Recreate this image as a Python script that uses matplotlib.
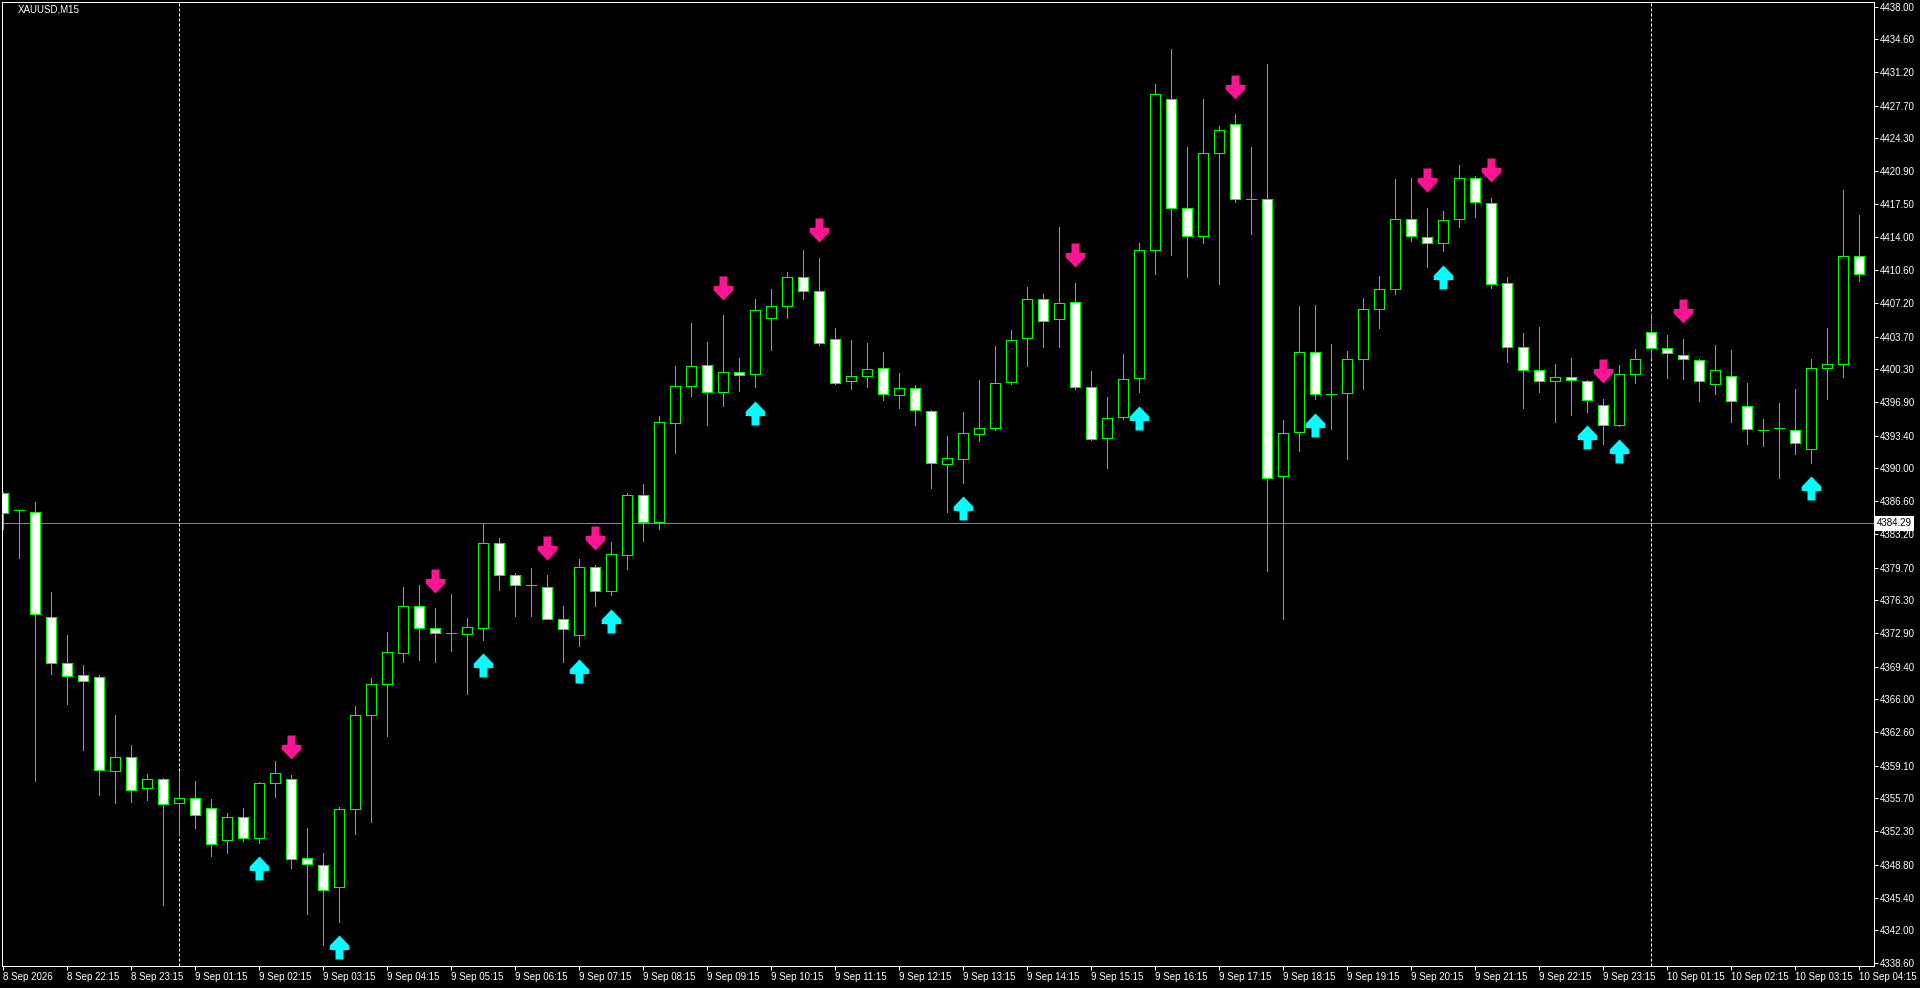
import matplotlib
matplotlib.use("Agg")
import matplotlib.pyplot as plt
from matplotlib.path import Path
from matplotlib.transforms import offset_copy

plt.rcParams['font.family'] = ['Liberation Sans', 'DejaVu Sans']

# ---------------- data ----------------
symbol = "XAUUSD,M15"

opens = [4387.41, 4385.64, 4385.51, 4374.58, 4369.80, 4368.49, 4368.35, 4358.53, 4360.04, 4356.76,
         4357.68, 4355.26, 4355.78, 4354.67, 4351.40, 4353.82, 4351.59, 4357.29, 4357.68, 4349.50,
         4348.78, 4346.55, 4354.60, 4364.36, 4367.57, 4370.84, 4375.69, 4373.40, 4372.87, 4372.81,
         4373.46, 4382.24, 4378.90, 4377.91, 4377.72, 4374.31, 4372.68, 4379.75, 4377.26, 4380.99,
         4387.21, 4384.40, 4394.68, 4398.61, 4400.77, 4397.95, 4400.05, 4399.78, 4405.61, 4406.92,
         4409.87, 4408.43, 4403.45, 4399.06, 4399.65, 4400.44, 4397.62, 4398.34, 4395.99, 4390.42,
         4390.95, 4393.56, 4394.15, 4398.93, 4403.52, 4407.58, 4405.48, 4407.25, 4398.41, 4393.11,
         4395.33, 4399.39, 4412.75, 4428.40, 4417.07, 4414.12, 4422.77, 4425.78, 4417.99, 4418.05,
         4389.18, 4393.83, 4402.14, 4397.69, 4397.82, 4401.42, 4406.53, 4408.69, 4415.96, 4414.06,
         4413.40, 4415.96, 4420.15, 4417.60, 4409.28, 4402.60, 4400.18, 4399.13, 4399.52, 4399.06,
         4396.58, 4394.48, 4399.78, 4404.17, 4402.53, 4401.75, 4401.29, 4398.74, 4399.65, 4396.51,
         4394.02, 4394.15, 4394.02, 4391.99, 4400.44, 4400.83, 4412.09]
highs = [4387.60, 4385.70, 4386.49, 4377.13, 4372.68, 4369.60, 4368.49, 4364.36, 4361.28, 4358.27,
         4357.80, 4358.53, 4357.48, 4355.65, 4354.21, 4354.73, 4357.42, 4359.58, 4358.14, 4352.64,
         4350.02, 4354.80, 4365.34, 4368.22, 4373.00, 4377.65, 4377.91, 4375.49, 4376.93, 4374.44,
         4384.20, 4382.76, 4379.16, 4379.68, 4378.90, 4375.69, 4380.60, 4379.94, 4382.37, 4387.47,
         4388.39, 4395.46, 4400.64, 4405.09, 4403.12, 4405.94, 4401.49, 4407.58, 4408.62, 4410.39,
         4412.68, 4411.90, 4404.56, 4403.32, 4403.06, 4402.08, 4399.92, 4398.67, 4396.05, 4393.37,
         4395.86, 4399.20, 4402.73, 4404.37, 4408.89, 4408.10, 4415.11, 4409.28, 4400.11, 4397.43,
         4401.88, 4413.40, 4429.97, 4433.57, 4423.42, 4428.40, 4425.58, 4426.83, 4423.42, 4432.07,
         4395.00, 4406.86, 4406.99, 4402.93, 4402.21, 4407.71, 4410.00, 4420.08, 4420.21, 4417.07,
         4416.74, 4421.52, 4420.41, 4418.12, 4409.87, 4404.11, 4404.70, 4400.83, 4401.49, 4399.20,
         4397.23, 4400.77, 4402.40, 4406.07, 4403.84, 4403.45, 4401.35, 4402.80, 4402.34, 4398.87,
         4395.14, 4396.77, 4398.28, 4401.36, 4404.56, 4418.90, 4416.35]
lows = [4383.68, 4380.66, 4357.48, 4368.62, 4365.47, 4360.76, 4356.04, 4355.19, 4355.32, 4355.52,
        4344.59, 4351.92, 4352.64, 4349.69, 4350.02, 4351.33, 4351.07, 4355.85, 4348.45, 4343.73,
        4340.46, 4342.88, 4352.05, 4353.23, 4362.20, 4369.93, 4370.06, 4369.86, 4371.04, 4366.52,
        4372.22, 4377.33, 4374.71, 4374.64, 4374.31, 4369.93, 4371.56, 4375.69, 4376.80, 4379.55,
        4382.50, 4383.68, 4391.60, 4397.49, 4394.48, 4396.45, 4398.02, 4398.41, 4402.27, 4405.68,
        4407.64, 4402.86, 4398.74, 4398.21, 4398.41, 4397.10, 4396.25, 4394.48, 4387.93, 4385.44,
        4388.52, 4392.84, 4393.96, 4398.80, 4400.64, 4402.67, 4402.67, 4398.21, 4392.91, 4390.09,
        4395.14, 4397.89, 4410.20, 4412.16, 4409.93, 4413.40, 4409.15, 4417.73, 4414.32, 4379.29,
        4374.31, 4391.80, 4397.17, 4394.09, 4390.95, 4398.21, 4404.63, 4408.10, 4413.60, 4410.98,
        4412.55, 4415.04, 4416.09, 4408.76, 4401.03, 4396.25, 4397.89, 4394.87, 4395.59, 4395.86,
        4392.58, 4394.40, 4398.87, 4401.49, 4399.39, 4399.26, 4396.97, 4397.69, 4394.87, 4392.52,
        4392.32, 4388.98, 4391.47, 4390.55, 4397.17, 4399.46, 4409.48]
closes = [4385.38, 4385.64, 4374.90, 4369.80, 4368.42, 4367.96, 4358.66, 4359.97, 4356.63, 4357.68,
          4355.13, 4355.78, 4354.01, 4350.94, 4353.82, 4351.59, 4357.29, 4358.34, 4349.43, 4348.91,
          4346.22, 4354.60, 4364.36, 4367.57, 4370.91, 4375.69, 4373.40, 4372.94, 4372.87, 4373.53,
          4382.24, 4378.90, 4377.91, 4377.91, 4374.38, 4373.27, 4379.75, 4377.26, 4381.06, 4387.21,
          4384.40, 4394.81, 4398.54, 4400.64, 4397.95, 4399.98, 4399.72, 4406.46, 4406.92, 4409.87,
          4408.49, 4402.99, 4398.87, 4399.65, 4400.31, 4397.69, 4398.34, 4396.05, 4390.55, 4391.08,
          4393.70, 4394.15, 4398.87, 4403.32, 4407.58, 4405.29, 4407.18, 4398.41, 4393.04, 4395.27,
          4399.33, 4412.75, 4428.86, 4417.07, 4414.12, 4422.77, 4425.19, 4418.05, 4417.99, 4388.98,
          4393.70, 4402.14, 4397.69, 4397.69, 4401.42, 4406.53, 4408.69, 4415.96, 4414.12, 4413.47,
          4415.83, 4420.15, 4417.66, 4409.21, 4402.60, 4400.18, 4399.13, 4399.52, 4399.20, 4397.10,
          4394.48, 4399.78, 4401.36, 4402.53, 4402.01, 4401.36, 4399.13, 4400.18, 4397.03, 4394.09,
          4394.02, 4394.15, 4392.65, 4400.44, 4400.83, 4412.09, 4410.20]

up_signal_bars = [16, 21, 30, 36, 38, 47, 60, 71, 82, 90, 99, 101, 113]
down_signal_bars = [18, 27, 34, 37, 45, 51, 67, 77, 89, 93, 100, 105]
day_separator_bars = [11, 103]
bid_price = 4384.29

price_ticks = [4438.00, 4434.60, 4431.20, 4427.70, 4424.30, 4420.90, 4417.50, 4414.00, 4410.60,
               4407.20, 4403.70, 4400.30, 4396.90, 4393.40, 4390.00, 4386.60, 4383.20, 4379.70,
               4376.30, 4372.90, 4369.40, 4366.00, 4362.60, 4359.10, 4355.70, 4352.30, 4348.80,
               4345.40, 4342.00, 4338.60]

time_tick_bars = list(range(0, 117, 4))
time_tick_labels = ["8 Sep 2026", "8 Sep 22:15", "8 Sep 23:15", "9 Sep 01:15", "9 Sep 02:15",
                    "9 Sep 03:15", "9 Sep 04:15", "9 Sep 05:15", "9 Sep 06:15", "9 Sep 07:15",
                    "9 Sep 08:15", "9 Sep 09:15", "9 Sep 10:15", "9 Sep 11:15", "9 Sep 12:15",
                    "9 Sep 13:15", "9 Sep 14:15", "9 Sep 15:15", "9 Sep 16:15", "9 Sep 17:15",
                    "9 Sep 18:15", "9 Sep 19:15", "9 Sep 20:15", "9 Sep 21:15", "9 Sep 22:15",
                    "9 Sep 23:15", "10 Sep 01:15", "10 Sep 02:15", "10 Sep 03:15", "10 Sep 04:15"]

# ---------------- styling / layout ----------------
W, H, DPI = 1920, 988, 100
PX = 72.0 / DPI  # points per pixel
GREEN = "#00ff00"
CYAN = "#00ffff"
PINK = "#ff1493"
FS = 7

fig = plt.figure(figsize=(W / DPI, H / DPI), dpi=DPI, facecolor="black")
L, R, T, B = 2, 1874, 2.5, 966
ax = fig.add_axes([L / W, 1 - B / H, (R - L) / W, (B - T) / H])
ax.set_facecolor("black")

n = len(opens)
xs = list(range(n))
ax.set_xlim(-0.042, 116.958)
ax.set_ylim(4338.29, 4438.42)

# reference lines
ax.axhline(bid_price, color="#778899", lw=PX, zorder=1)
for b in day_separator_bars:
    ax.axvline(b, color="white", lw=PX, ls=(0, (3, 2)), zorder=1)

# candles
ax.vlines(xs, lows, highs, colors=GREEN, lw=PX, zorder=3, antialiased=False)
bottoms = [min(o, c) for o, c in zip(opens, closes)]
heights = [abs(c - o) for o, c in zip(opens, closes)]
fills = ["white" if c < o else "black" for o, c in zip(opens, closes)]
ax.bar(xs, heights, bottom=bottoms, width=0.625, color=fills, edgecolor=GREEN,
       linewidth=PX, zorder=4, antialiased=False)

# signal arrows
up_verts = [(0, 12), (9.8, 1.8), (9.8, -2.4), (4.0, -2.8), (4.0, -12), (-4.0, -12),
            (-4.0, -2.8), (-9.8, -2.4), (-9.8, 1.8), (0, 12)]
codes = [Path.MOVETO] + [Path.LINETO] * (len(up_verts) - 2) + [Path.CLOSEPOLY]
up_path = Path(up_verts, codes)
down_path = Path([(vx, -vy) for vx, vy in up_verts], codes)
ms = 2 * 12 * PX

up_tr = offset_copy(ax.transData, fig=fig, x=0, y=-25.2, units="dots")
down_tr = offset_copy(ax.transData, fig=fig, x=0, y=27.5, units="dots")
ax.plot(up_signal_bars, [lows[i] for i in up_signal_bars], ls="none", marker=up_path,
        ms=ms, mfc=CYAN, mec="none", mew=0, transform=up_tr, zorder=6, clip_on=False)
ax.plot(down_signal_bars, [highs[i] for i in down_signal_bars], ls="none", marker=down_path,
        ms=ms, mfc=PINK, mec="none", mew=0, transform=down_tr, zorder=6, clip_on=False)

# frame
for s in ax.spines.values():
    s.set_color("white")
    s.set_linewidth(PX)

# axes ticks
ax.yaxis.tick_right()
ax.set_yticks(price_ticks, [f"{v:.2f}" for v in price_ticks])
ax.tick_params(axis="y", direction="out", length=4 * PX, width=PX, color="white",
               labelcolor="white", labelsize=FS, pad=1.5)
ax.set_xticks(time_tick_bars, time_tick_labels)
ax.tick_params(axis="x", direction="out", length=4 * PX, width=PX, color="white",
               labelcolor="white", labelsize=FS, pad=1.5)
plt.setp(ax.get_xticklabels(), ha="left")

# bid price label
ax.annotate(f"{bid_price:.2f}", xy=(1, bid_price), xycoords=("axes fraction", "data"),
            xytext=(3, 0), textcoords="offset pixels", ha="left", va="center",
            fontsize=FS, color="black", annotation_clip=False, zorder=10,
            bbox=dict(boxstyle="square,pad=0.22", fc="white", ec="none"))

# symbol title
fig.text(18 / W, 1 - 10 / H, symbol, color="white", fontsize=FS, ha="left", va="center")

fig.savefig("out.png", dpi=DPI, facecolor="black")
